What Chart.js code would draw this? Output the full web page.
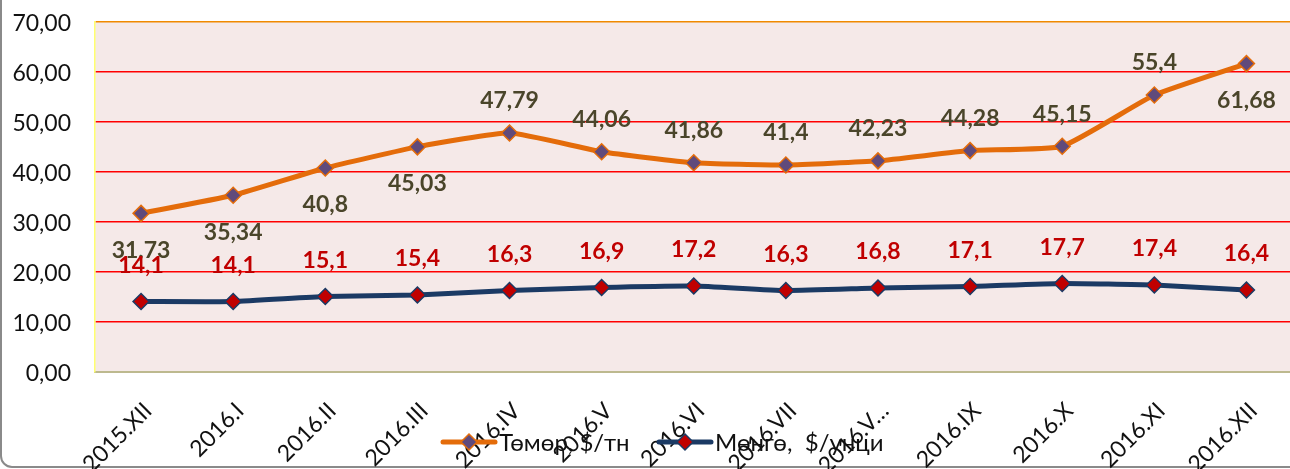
<!DOCTYPE html>
<html lang="mn">
<head>
  <meta charset="UTF-8" />
  <title>Төмөр, мөнгөний үнэ</title>
  <script src="https://cdn.jsdelivr.net/npm/chart.js"></script>
  <style>
    html, body { margin: 0; padding: 0; overflow: hidden; background: #fff; }
    #clip { position: relative; width: 1290px; height: 469px; overflow: hidden; }
    #frame {
      position: absolute; left: 0; top: -30px; width: 1400px; height: 498px;
      border: 2px solid #8a8a8a; border-radius: 12px; box-sizing: border-box;
    }
    #wrap { position: absolute; left: 0; top: 0; width: 1302px; height: 469px; }
  </style>
</head>
<body>
  <div id="clip">
    <div id="frame"></div>
    <div id="wrap"><canvas id="chart" width="1302" height="469"></canvas></div>
  </div>

  <script>
    const months = ['2015.XII', '2016.I', '2016.II', '2016.III', '2016.IV', '2016.V', '2016.VI',
                    '2016.VII', '2016.V…', '2016.IX', '2016.X', '2016.XI', '2016.XII'];
    const iron = [31.73, 35.34, 40.8, 45.03, 47.79, 44.06, 41.86, 41.4, 42.23, 44.28, 45.15, 55.4, 61.68];
    const silver = [14.1, 14.1, 15.1, 15.4, 16.3, 16.9, 17.2, 16.3, 16.8, 17.1, 17.7, 17.4, 16.4];
    const yTicks = [0, 10, 20, 30, 40, 50, 60, 70];

    // Excel-ийн шошгоны байрлал: доор / дээр
    const ironLabelPos = ['below', 'below', 'below', 'below', 'above', 'above', 'above',
                          'above', 'above', 'above', 'above', 'above', 'below'];

    const fmt = v => String(v).replace('.', ',');
    const FONT = 'Lato, "Open Sans", sans-serif';

    const plotBg = {
      id: 'plotBg',
      beforeDraw(chart) {
        const a = chart.chartArea, ctx = chart.ctx;
        ctx.save();
        ctx.fillStyle = '#f5e9e8';
        ctx.fillRect(a.left, a.top, a.right - a.left, a.bottom - a.top);
        ctx.restore();
      }
    };

    const valueLabels = {
      id: 'valueLabels',
      afterDatasetsDraw(chart) {
        const ctx = chart.ctx;
        ctx.save();
        ctx.font = 'bold 23px ' + FONT;
        ctx.textAlign = 'center';
        ctx.textBaseline = 'middle';
        chart.getDatasetMeta(0).data.forEach((p, i) => {
          ctx.fillStyle = '#4a452a';
          ctx.fillText(fmt(iron[i]), p.x, p.y + (ironLabelPos[i] === 'below' ? 37 : -32));
        });
        chart.getDatasetMeta(1).data.forEach((p, i) => {
          ctx.fillStyle = '#c00000';
          ctx.fillText(fmt(silver[i]), p.x, p.y - 36);
        });
        ctx.restore();
      }
    };

    // тэнхлэгийн шошго (Excel шиг 45° эргүүлсэн)
    const axisText = {
      id: 'axisText',
      afterDraw(chart) {
        const ctx = chart.ctx, xs = chart.scales.x, ys = chart.scales.y;
        ctx.save();
        ctx.font = '23px ' + FONT;
        ctx.fillStyle = '#111';
        ctx.textAlign = 'right';
        ctx.textBaseline = 'middle';
        yTicks.forEach(v => {
          ctx.fillText(v.toFixed(2).replace('.', ','), ys.right - 24, ys.getPixelForValue(v) + 2);
        });
        months.forEach((m, i) => {
          ctx.save();
          ctx.translate(xs.getPixelForTick(i) + 7, xs.top + 35);
          ctx.rotate(-Math.PI / 4);
          ctx.fillText(m, 0, 0);
          ctx.restore();
        });
        ctx.restore();
      }
    };

    const legendBox = {
      id: 'legendBox',
      afterDraw(chart) {
        const ctx = chart.ctx;
        const y = 442;
        const items = [
          { text: 'Төмөр, $/тн', line: '#e46c0a', fill: '#604a7b', x: 443 },
          { text: 'Мөнгө,  $/унци', line: '#1b3a64', fill: '#c00000', x: 659 }
        ];
        ctx.save();
        ctx.font = '24px ' + FONT;
        ctx.textBaseline = 'middle';
        items.forEach(it => {
          ctx.strokeStyle = it.line;
          ctx.lineWidth = 5;
          ctx.lineCap = 'round';
          ctx.beginPath();
          ctx.moveTo(it.x, y);
          ctx.lineTo(it.x + 52, y);
          ctx.stroke();
          const cx = it.x + 26;
          ctx.beginPath();
          ctx.moveTo(cx, y - 8); ctx.lineTo(cx + 8, y); ctx.lineTo(cx, y + 8); ctx.lineTo(cx - 8, y);
          ctx.closePath();
          ctx.fillStyle = it.fill;
          ctx.fill();
          ctx.lineWidth = 1.5;
          ctx.stroke();
          ctx.fillStyle = '#111';
          ctx.fillText(it.text, it.x + 56, y + 1);
        });
        ctx.restore();
      }
    };

    new Chart(document.getElementById('chart'), {
      type: 'line',
      data: {
        labels: months,
        datasets: [
          {
            label: 'Төмөр, $/тн',
            data: iron,
            borderColor: '#e46c0a',
            borderWidth: 5,
            tension: 0.15,
            pointStyle: 'rectRot',
            pointRadius: 8,
            pointBackgroundColor: '#604a7b',
            pointBorderColor: '#e46c0a',
            pointBorderWidth: 1.5
          },
          {
            label: 'Мөнгө, $/унци',
            data: silver,
            borderColor: '#1b3a64',
            borderWidth: 5,
            tension: 0.15,
            pointStyle: 'rectRot',
            pointRadius: 8,
            pointBackgroundColor: '#c00000',
            pointBorderColor: '#1b3a64',
            pointBorderWidth: 1.5
          }
        ]
      },
      options: {
        responsive: false,
        animation: false,
        layout: { padding: { top: 22, right: 1, left: 0, bottom: 0 } },
        plugins: { legend: { display: false }, tooltip: { enabled: false } },
        scales: {
          x: {
            offset: true,
            grid: { display: false, drawTicks: false },
            border: { display: true, color: '#bdb98f', width: 2 },
            ticks: { display: false, autoSkip: false },
            afterFit: s => { s.height = 97; s.paddingLeft = 0; s.paddingRight = 0; }
          },
          y: {
            min: 0,
            max: 70,
            afterBuildTicks: s => { s.ticks = yTicks.map(v => ({ value: v })); },
            grid: {
              drawTicks: false,
              lineWidth: 1.5,
              color: c => c.tick.value === 70 ? '#f08a00' : (c.tick.value === 0 ? 'rgba(0,0,0,0)' : '#ff0000')
            },
            border: { display: true, color: '#ffff70', width: 1.5 },
            ticks: { display: false },
            afterFit: s => { s.width = 95; s.paddingTop = 0; s.paddingBottom = 0; }
          }
        }
      },
      plugins: [plotBg, valueLabels, axisText, legendBox]
    });
  </script>
</body>
</html>
